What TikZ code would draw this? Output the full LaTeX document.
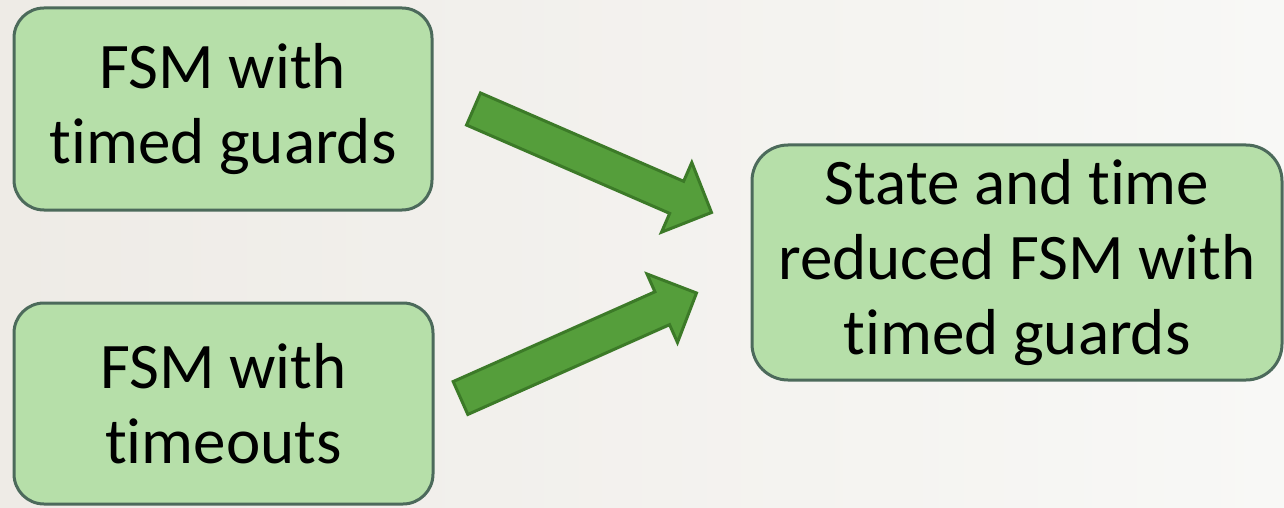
\documentclass[tikz,border=0pt]{standalone}
\usepackage{fontspec}
\setmainfont[Ligatures={NoCommon}]{Carlito}
\usetikzlibrary{calc}
\definecolor{boxfill}{HTML}{B6DFA9}
\definecolor{boxline}{HTML}{4C6A5B}
\definecolor{arrfill}{HTML}{559E3B}
\definecolor{arrline}{HTML}{3C7A28}
\definecolor{bgleft}{HTML}{EEEBE6}
\definecolor{bgright}{HTML}{F8F8F6}
\tikzset{
  stagebox/.style={draw=boxline, line width=3pt, fill=boxfill, rounded corners=30pt,
    align=center, inner sep=0pt, text=black,
    font=\fontsize{65}{75}\selectfont},
  blockarrow/.style={draw=arrline, line width=3pt, fill=arrfill, line join=miter}
}
\begin{document}
\begin{tikzpicture}[x=1pt,y=1pt]
  \shade[left color=bgleft, right color=bgright] (0,0) rectangle (1284,507);
  \useasboundingbox (0,0) rectangle (1284,507);

  \node[stagebox, minimum width=418pt, minimum height=202pt] (fsmg) at (223,398)
    {FSM with\\timed guards};
  \node[stagebox, minimum width=419pt, minimum height=201pt] (fsmt) at (223.5,103.5)
    {FSM with\\timeouts};
  \node[stagebox, rounded corners=36pt, minimum width=530pt, minimum height=235pt] (red) at (1017,244.5)
    {State and time\\reduced FSM with\\timed guards};

  % arrow 1
  \coordinate (s1) at ($(fsmg.east)+(40,0)$);
  \coordinate (e1) at ($(red.west)+(-39,50)$);
  \coordinate (h1) at ($(e1)!38pt!(s1)$);
  \draw[blockarrow]
    ($(s1)!17.5pt!90:(e1)$) -- ($(h1)!17.5pt!90:(e1)$) -- ($(h1)!38pt!90:(e1)$)
    -- (e1) -- ($(h1)!38pt!-90:(e1)$) -- ($(h1)!17.5pt!-90:(e1)$)
    -- ($(s1)!17.5pt!-90:(e1)$) -- cycle;

  % arrow 2
  \coordinate (s2) at ($(fsmt.east)+(26,5.5)$);
  \coordinate (e2) at ($(red.west)+(-54,-30.5)$);
  \coordinate (h2) at ($(e2)!37.5pt!(s2)$);
  \draw[blockarrow]
    ($(s2)!18pt!90:(e2)$) -- ($(h2)!18pt!90:(e2)$) -- ($(h2)!37.5pt!90:(e2)$)
    -- (e2) -- ($(h2)!37.5pt!-90:(e2)$) -- ($(h2)!18pt!-90:(e2)$)
    -- ($(s2)!18pt!-90:(e2)$) -- cycle;
\end{tikzpicture}
\end{document}
